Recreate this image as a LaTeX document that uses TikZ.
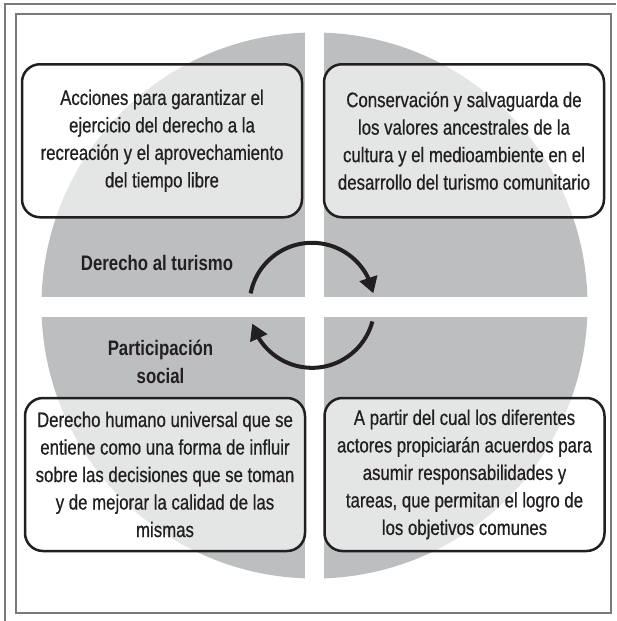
\documentclass[tikz,border=0pt]{standalone}
\usepackage{fontspec}
\setmainfont{Liberation Sans}[FakeStretch=0.80, UprightFeatures={FakeBold=0.6}]
\usetikzlibrary{arrows.meta,bending}
\definecolor{disc}{HTML}{BCBEC0}
\definecolor{ink}{HTML}{231F20}
\definecolor{framegray}{HTML}{7A7A7A}
\begin{document}
\begin{tikzpicture}[x=1pt,y=-1pt,
  txt/.style={font=\fontsize{21}{27.5}\selectfont, text=ink, align=center},
  card/.style={txt, draw=ink, line width=2.5pt, rounded corners=18pt, fill=white,
    fill opacity=0.6, text opacity=1, minimum width=280pt, minimum height=153pt, inner sep=0pt},
  lbl/.style={font=\fontsize{21}{27.5}\selectfont\bfseries, text=ink, align=center},
  cyc/.style={draw=ink, line width=4pt, -{Triangle[length=16pt,width=18pt]}},
  framestyle/.style={draw=framegray, line width=1.2pt}
]
\useasboundingbox (0,0) rectangle (616,621);
% frames
\draw[framestyle] (5,621) -- (5,4) -- (616,4);
\draw[framestyle] (16,14) rectangle (611,613);
% disc and cross
\fill[disc] (314.5,305.5) circle[radius=273];
\fill[white] (305,20) rectangle (324,592);
\fill[white] (30,297.3) rectangle (600,316.7);
% cards
\node[card] (tl) at (162,140.75) {Acciones para garantizar el\\ejercicio del derecho a la\\recreación y el aprovechamiento\\del tiempo libre};
\node[card] (tr) at (464,140.75) {Conservación y salvaguarda de\\los valores ancestrales de la\\cultura y el medioambiente en el\\desarrollo del turismo comunitario};
\node[card] (bl) at (165,474.5) {Derecho humano universal que se\\entiene como una forma de influir\\sobre las decisiones que se toman\\y de mejorar la calidad de las\\mismas};
\node[card] (br) at (464.5,474.5) {A partir del cual los diferentes\\actores propiciarán acuerdos para\\asumir responsabilidades y\\tareas, que permitan el logro de\\los objetivos comunes};
% labels
\node[lbl] (dt) at (157,263) {Derecho al turismo};
\node[lbl] (ps) at (160.5,362) {Participación\\social};
% cycle arrows
\coordinate (cc) at (312,305.3);
\draw[cyc] ([shift={(-169:62.5)}]cc) arc[start angle=-169, end angle=-11, radius=62.5];
\draw[cyc] ([shift={(15:62.5)}]cc) arc[start angle=15, end angle=163, radius=62.5];
\end{tikzpicture}
\end{document}
